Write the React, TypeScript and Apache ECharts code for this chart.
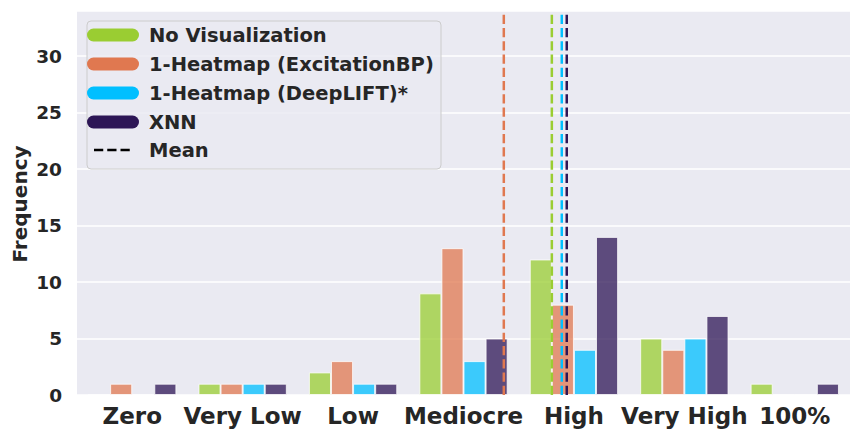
import React, { useEffect, useRef } from "react";
import * as echarts from "echarts";

const categories = ["Zero", "Very Low", "Low", "Mediocre", "High", "Very High", "100%"];
const seriesNames = ["No Visualization", "1-Heatmap (ExcitationBP)", "1-Heatmap (DeepLIFT)*", "XNN"];
const noVis = [0, 1, 2, 9, 12, 5, 1];
const excitation = [1, 1, 3, 13, 8, 4, 0];
const deeplift = [0, 1, 1, 3, 4, 5, 0];
const xnn = [1, 1, 1, 5, 14, 7, 1];
const meanPositions = [3.8, 3.365, 3.89, 3.935];
const colors = ["#9acd32", "#e07850", "#00bfff", "#2d1656"];
const yTicks = [0, 5, 10, 15, 20, 25, 30];
const yMax = 34;

const FONT = "DejaVu Sans";
const TEXT = "#262626";

export default function App() {
  const ref = useRef<HTMLDivElement>(null);
  useEffect(() => {
    if (!ref.current) return;
    const chart = echarts.init(ref.current, null, { renderer: "svg" });
    const values = [noVis, excitation, deeplift, xnn];
    const barSeries = values.map((d, i) => ({
      name: seriesNames[i],
      type: "bar",
      xAxisIndex: 0,
      yAxisIndex: 0,
      data: d,
      barGap: "0%",
      barCategoryGap: "20%",
      itemStyle: { color: colors[i], opacity: 0.75, borderColor: "#ffffff", borderWidth: 1 },
      z: 2,
    }));
    const meanSeries = meanPositions.map((m, i) => ({
      name: "Mean " + seriesNames[i],
      type: "line",
      xAxisIndex: 1,
      yAxisIndex: 0,
      data: [[m, 0], [m, yMax]],
      symbol: "none",
      lineStyle: { color: colors[i], width: 2.5, type: [9.25, 4] },
      z: 5,
    }));
    const rowY = [35, 64, 93, 122, 150];
    const legendItems: any[] = [
      {
        type: "rect",
        shape: { x: 87, y: 21, width: 354, height: 148, r: 4 },
        style: { fill: "rgba(234,234,242,0.85)", stroke: "#cccccc", lineWidth: 1 },
        z: 10,
      },
    ];
    seriesNames.forEach((n, i) => {
      legendItems.push({
        type: "line",
        shape: { x1: 93.5, y1: rowY[i], x2: 132.5, y2: rowY[i] },
        style: { stroke: colors[i], lineWidth: 13, lineCap: "round" },
        z: 11,
      });
      legendItems.push({
        type: "text",
        x: 149,
        y: rowY[i],
        style: { text: n, font: `bold 19.5px "${FONT}"`, fill: TEXT, verticalAlign: "middle" },
        z: 11,
      });
    });
    legendItems.push({
      type: "line",
      shape: { x1: 94, y1: rowY[4], x2: 133, y2: rowY[4] },
      style: { stroke: "#000000", lineWidth: 2.5, lineDash: [9.25, 4] },
      z: 11,
    });
    legendItems.push({
      type: "text",
      x: 149,
      y: rowY[4],
      style: { text: "Mean", font: `bold 19.5px "${FONT}"`, fill: TEXT, verticalAlign: "middle" },
      z: 11,
    });
    legendItems.push({
      type: "text",
      x: 20,
      y: 204,
      rotation: Math.PI / 2,
      style: { text: "Frequency", font: `bold 20px "${FONT}"`, fill: TEXT, align: "center", verticalAlign: "middle" },
      z: 11,
    });

    chart.setOption({
      animation: false,
      backgroundColor: "#ffffff",
      textStyle: { fontFamily: FONT },
      grid: { left: 77, right: 11, top: 11, bottom: 43, backgroundColor: "#eaeaf2", show: true, borderWidth: 0 },
      xAxis: [
        {
          type: "category",
          data: categories,
          axisLine: { show: false },
          axisTick: { show: false },
          axisLabel: { interval: 0, fontSize: 23, fontWeight: "bold", color: TEXT, margin: 9, fontFamily: FONT },
          splitLine: { show: false },
        },
        { type: "value", min: -0.5, max: 6.5, show: false },
      ],
      yAxis: [
        {
          type: "value",
          min: 0,
          max: yMax,
          interval: 5,
          axisLine: { show: false },
          axisTick: { show: false },
          axisLabel: {
            fontSize: 18.5,
            fontWeight: "bold",
            color: TEXT,
            margin: 15,
            fontFamily: FONT,
            formatter: (v: number) => (yTicks.includes(v) ? String(v) : ""),
          },
          splitLine: { show: true, lineStyle: { color: "#ffffff", width: 1.5 } },
        },
      ],
      graphic: legendItems,
      series: [...barSeries, ...meanSeries],
    });
    return () => chart.dispose();
  }, []);
  return <div ref={ref} style={{ position: "fixed", left: 0, top: 0, width: 861, height: 438 }} />;
}
